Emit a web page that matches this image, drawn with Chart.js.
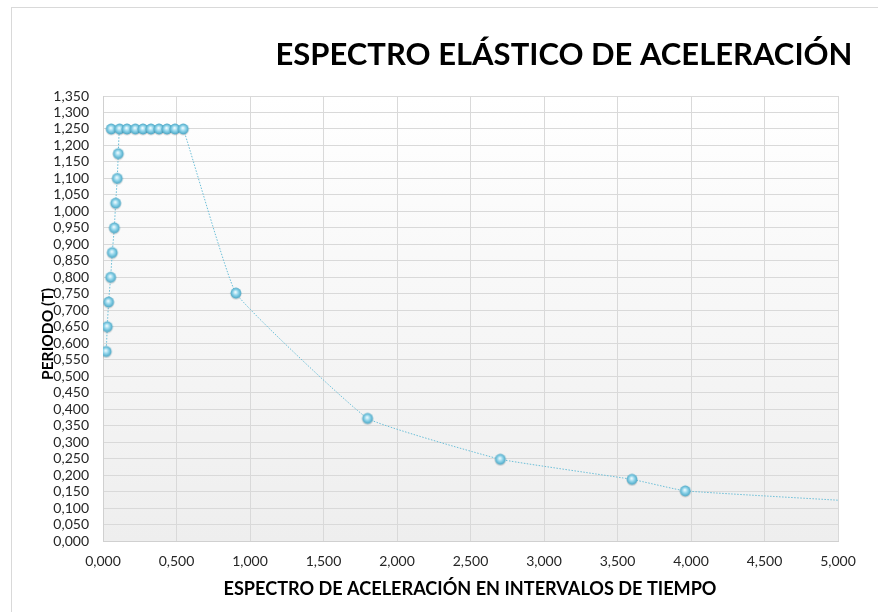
<!DOCTYPE html>
<html>
<head>
<meta charset="utf-8">
<script src="https://cdn.jsdelivr.net/npm/chart.js@4.4.1/dist/chart.umd.min.js"></script>
<style>
  html, body { margin: 0; padding: 0; background: #fff; }
</style>
</head>
<body>
<canvas id="espectro" width="878" height="612"></canvas>
<script>
// Values
const leadX = [0.056];
const leadY = [1.25];
const riseX = [0.022, 0.029, 0.038, 0.052, 0.063, 0.077, 0.086, 0.097, 0.104];
const riseY = [0.575, 0.650, 0.725, 0.800, 0.875, 0.950, 1.025, 1.100, 1.175];
const plateauX = [0.113, 0.163, 0.220, 0.272, 0.326, 0.381, 0.435, 0.490, 0.546];
const plateauY = [1.25, 1.25, 1.25, 1.25, 1.25, 1.25, 1.25, 1.25, 1.25];
const decayX = [0.904, 1.800, 2.703, 3.599, 3.961, 5.500];
const decayY = [0.752, 0.372, 0.248, 0.187, 0.152, 0.111];

const xTicks = [0, 0.5, 1, 1.5, 2, 2.5, 3, 3.5, 4, 4.5, 5];
const yTicks = [0, 0.05, 0.1, 0.15, 0.2, 0.25, 0.3, 0.35, 0.4, 0.45, 0.5, 0.55, 0.6, 0.65,
  0.7, 0.75, 0.8, 0.85, 0.9, 0.95, 1, 1.05, 1.1, 1.15, 1.2, 1.25, 1.3, 1.35];
const title = 'ESPECTRO ELÁSTICO DE ACELERACIÓN';
const xTitle = 'ESPECTRO DE ACELERACIÓN EN INTERVALOS DE TIEMPO';
const yTitle = 'PERIODO (T)';

const toPts = (xs, ys) => xs.map((x, i) => ({ x, y: ys[i] }));
const series = [].concat(toPts(riseX, riseY), toPts(plateauX, plateauY), toPts(decayX, decayY));

// little shaded bead, like the Excel marker
const bead = (() => {
  const c = document.createElement('canvas');
  c.width = 14; c.height = 14;
  const g = c.getContext('2d');
  g.fillStyle = 'rgba(0,0,0,0.13)';
  g.beginPath(); g.arc(7, 8, 5.6, 0, Math.PI * 2); g.fill();
  const rg = g.createRadialGradient(6.5, 6, 0.5, 7, 7, 5.6);
  rg.addColorStop(0, '#e8f8fd');
  rg.addColorStop(0.45, '#8fd4ea');
  rg.addColorStop(1, '#45a3c2');
  g.fillStyle = rg;
  g.beginPath(); g.arc(7, 7, 5.4, 0, Math.PI * 2); g.fill();
  return c;
})();

const comma3 = (v) => Number(v).toFixed(3).replace('.', ',');

function drawFitted(ctx, text, font, cx, baseY, width, angle) {
  ctx.save();
  ctx.font = font;
  const w = ctx.measureText(text).width;
  ctx.translate(cx, baseY);
  if (angle) ctx.rotate(angle);
  ctx.scale(width / w, 1);
  ctx.textAlign = 'center';
  ctx.textBaseline = 'alphabetic';
  ctx.fillStyle = '#000';
  ctx.fillText(text, 0, 0);
  ctx.restore();
}

const frame = {
  id: 'frame',
  beforeDraw(chart) {
    const { ctx, chartArea: a } = chart;
    ctx.save();
    ctx.fillStyle = '#fff';
    ctx.fillRect(0, 0, chart.width, chart.height);
    ctx.strokeStyle = '#d9d9d9';
    ctx.lineWidth = 1;
    ctx.strokeRect(11.5, 7.5, 900, 700);
    const gr = ctx.createLinearGradient(0, a.top, 0, a.bottom);
    gr.addColorStop(0, '#ffffff');
    gr.addColorStop(1, '#eeeeee');
    ctx.fillStyle = gr;
    ctx.fillRect(a.left, a.top, a.right - a.left, a.bottom - a.top);
    ctx.restore();
  },
  afterDraw(chart) {
    const { ctx } = chart;
    drawFitted(ctx, title, 'bold 30px Lato', 564, 65, 577);
    drawFitted(ctx, xTitle, 'bold 18px Lato', 470, 595, 493);
    ctx.save();
    ctx.translate(52.5, 334);
    drawFitted(ctx, yTitle, 'bold 16px Lato', 0, 0, 92, -Math.PI / 2);
    ctx.restore();
  }
};

new Chart(document.getElementById('espectro').getContext('2d'), {
  type: 'scatter',
  data: {
    datasets: [{
      data: series,
      showLine: true,
      borderColor: '#6cbfd8',
      borderWidth: 1,
      borderDash: [1.5, 1.5],
      tension: 0.1,
      pointStyle: bead,
      pointRadius: 5,
      pointHoverRadius: 5
    }, {
      data: toPts(leadX, leadY),
      showLine: false,
      pointStyle: bead,
      pointRadius: 5
    }]
  },
  options: {
    responsive: false,
    animation: false,
    layout: { padding: { left: 12, top: 96, right: 40, bottom: 0 } },
    plugins: { legend: { display: false }, tooltip: { enabled: false }, title: { display: false } },
    scales: {
      x: {
        type: 'linear', min: 0, max: 5,
        afterBuildTicks: (s) => { s.ticks = xTicks.map((v) => ({ value: v })); },
        afterFit: (s) => { s.height = 71; },
        grid: { color: '#d9d9d9', lineWidth: 1, drawTicks: false },
        border: { color: '#d0d0d0' },
        ticks: { padding: 12, color: '#262626', autoSkip: false, font: { family: 'Lato', size: 14 }, callback: (v) => comma3(v), maxRotation: 0 }
      },
      y: {
        type: 'linear', min: 0, max: 1.35,
        afterBuildTicks: (s) => { s.ticks = yTicks.map((v) => ({ value: v })); },
        ticks: { padding: 14, color: '#262626', autoSkip: false, font: { family: 'Lato', size: 14 }, callback: (v) => comma3(v) },
        afterFit: (s) => { s.width = 91; },
        grid: { color: '#d9d9d9', lineWidth: 1, drawTicks: false },
        border: { color: '#d0d0d0' }
      }
    }
  },
  plugins: [frame]
});
</script>
</body>
</html>
